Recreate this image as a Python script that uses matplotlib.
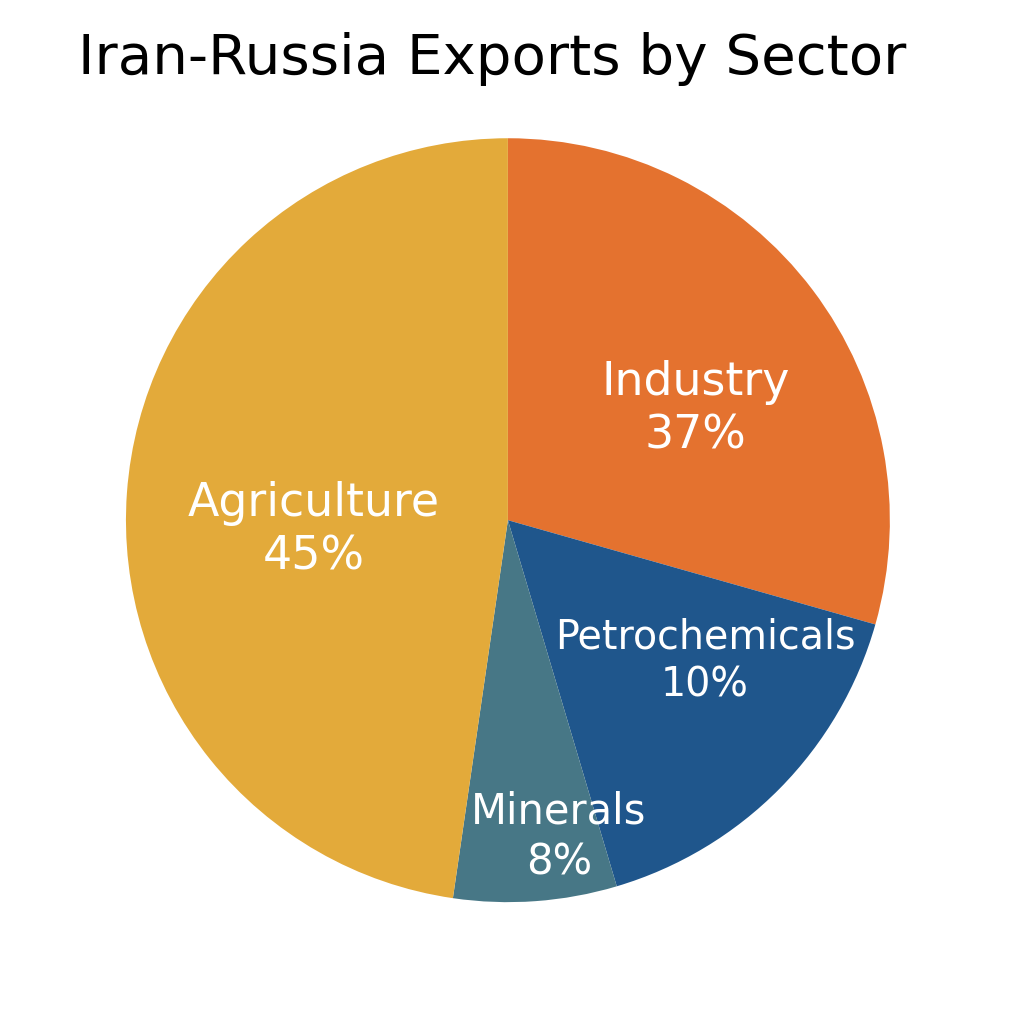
import numpy as np
import matplotlib.pyplot as plt

# slice sizes, labels as printed on the chart
sectors = ["Industry", "Petrochemicals", "Minerals", "Agriculture"]
shares = [29.4, 16.0, 6.9, 47.7]
pct_labels = ["37%", "10%", "8%", "45%"]
colors = ["#E4722F", "#1F568C", "#477786", "#E3AA3A"]

# label placement: distance from centre (fraction of radius) and angle tweak
label_dist = [0.57, 0.635, 0.84, 0.51]
label_shift = [-6.5, 9.0, 5.0, 7.0]
label_size = [33, 28.5, 30, 33]


def main():
    fig = plt.figure(figsize=(10.24, 10.24), dpi=100)
    ax = fig.add_axes([0.123, 0.119, 0.746, 0.746])

    wedges, _ = ax.pie(shares, colors=colors, startangle=90, counterclock=False,
                       radius=1.0, wedgeprops=dict(linewidth=0))
    ax.set_xlim(-1, 1)
    ax.set_ylim(-1, 1)
    ax.set_aspect("equal")
    ax.axis("off")

    for w, name, pct, d, s, fs in zip(wedges, sectors, pct_labels,
                                       label_dist, label_shift, label_size):
        mid = np.deg2rad((w.theta1 + w.theta2) / 2 + s)
        ax.text(d * np.cos(mid), d * np.sin(mid), f"{name}\n{pct}",
                ha="center", va="center", multialignment="center",
                color="white", fontsize=fs, linespacing=1.25)

    fig.text(0.481, 0.942, "Iran-Russia Exports by Sector",
             ha="center", va="center", fontsize=40.5, color="black")

    fig.savefig("out.png", dpi=100)


if __name__ == "__main__":
    main()
